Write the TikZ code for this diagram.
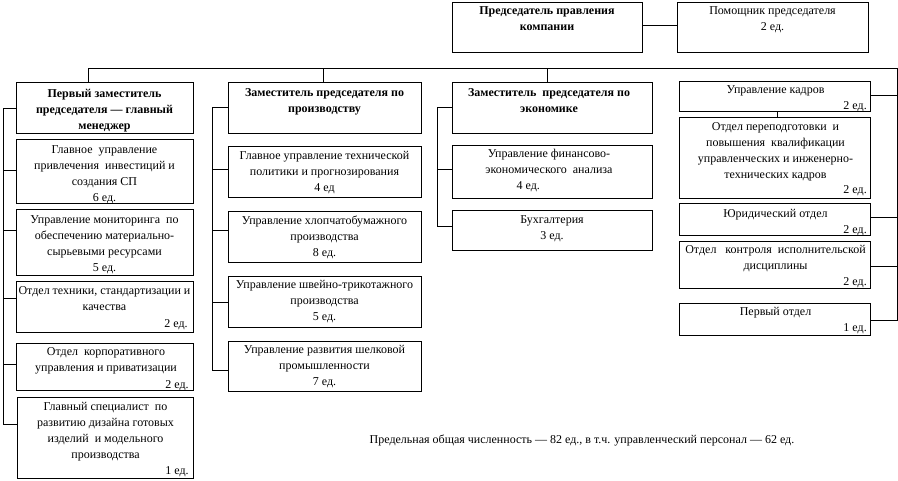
\documentclass[tikz,border=0pt]{standalone}
\usepackage{fontspec}
\setmainfont{Liberation Serif}
\usetikzlibrary{fit}
\newcommand\fnt{\fontsize{9}{12}\selectfont}
\newcommand\fs{\rule{0pt}{9pt}}
\tikzset{
  ln/.style={line width=0.75pt},
  box/.style={draw, line width=0.75pt, inner sep=0pt},
  txt/.style={font=\fnt, align=center, inner sep=0pt, anchor=north},
  btxt/.style={txt, font=\fnt\bfseries},
  num/.style={font=\fnt, inner sep=0pt, anchor=base east}
}
\newcommand\bx[5]{\node[box, fit={(#2,#3) (#4,#5)}] (#1) {};}
\begin{document}
\begin{tikzpicture}[x=0.75pt, y=-0.75pt]
\useasboundingbox (0,0) rectangle (898,480);
% top
\bx{pred}{452}{2}{642}{52}
\bx{pom}{677}{2}{868}{52}
\node[btxt] (tpred) at (547,14-12) {\fs Председатель правления\\компании};
\node[txt] (tpom) at (772.5,14-12) {\fs Помощник председателя\\2 ед.};
\draw[ln] (pred.east |- 0,25) -- (pom.west |- 0,25);
% column 1
\bx{c1h}{16}{82}{193}{133}
\bx{c1b2}{16}{139}{193}{203}
\bx{c1b3}{16}{209}{193}{275}
\bx{c1b4}{16}{281}{193}{332}
\bx{c1b5}{16}{343}{193}{390}
\bx{c1b6}{17}{397}{193}{478}
\node[btxt] at (104.5,97-12) {\fs Первый заместитель\\председателя — главный\\менеджер};
\node[txt] at (104.5,153-12) {\fs Главное\ \ управление\\привлечения\ \ инвестиций и\\создания СП\\6 ед.};
\node[txt] at (104.5,223-12) {\fs Управление мониторинга\ \ по\\обеспечению материально-\\сырьевыми ресурсами\\5 ед.};
\node[txt] at (104.5,294-12) {\fs Отдел техники, стандартизации и\\качества};
\node[num] at (188,327) {2 ед.};
\node[txt] at (106,355-12) {\fs Отдел\ \ корпоративного\\управления и приватизации};
\node[num] at (189,388) {2 ед.};
\node[txt] at (105.5,410-12) {\fs Главный специалист\ \ по\\развитию дизайна готовых\\изделий\ \ и модельного\\производства};
\node[num] at (189,474) {1 ед.};
% column 2
\bx{c2h}{228}{82}{421}{133}
\bx{c2b2}{228}{146}{421}{197}
\bx{c2b3}{228}{211}{421}{262}
\bx{c2b4}{228}{276}{421}{327}
\bx{c2b5}{228}{341}{421}{391}
\node[btxt] at (324.5,96-12) {\fs Заместитель председателя по\\производству};
\node[txt] at (324.5,159-12) {\fs Главное управление технической\\политики и прогнозирования\\4 ед};
\node[txt] at (324.5,224-12) {\fs Управление хлопчатобумажного\\производства\\8 ед.};
\node[txt] at (324.5,288-12) {\fs Управление швейно-трикотажного\\производства\\5 ед.};
\node[txt] at (324.5,353-12) {\fs Управление развития шелковой\\промышленности\\7 ед.};
% column 3
\bx{c3h}{452}{82}{652}{133}
\bx{c3b2}{452}{145}{652}{198}
\bx{c3b3}{452}{210}{652}{250}
\node[btxt] at (549,96-12) {\fs Заместитель\ \ председателя по\\экономике};
\node[txt] at (549,157-12) {\fs Управление финансово-\\экономического\ \ анализа\\4 ед.\hspace*{31pt}};
\node[txt] at (552,223-12) {\fs Бухгалтерия\\3 ед.};
% column 4
\bx{c4b1}{679}{81}{870}{111}
\bx{c4b2}{679}{117}{870}{198}
\bx{c4b3}{679}{203}{870}{235}
\bx{c4b4}{679}{241}{870}{288}
\bx{c4b5}{679}{303}{870}{335}
\node[txt] at (775.5,93-12) {\fs Управление кадров};
\node[num] at (867,109) {2 ед.};
\node[txt] at (775.5,130-12) {\fs Отдел переподготовки\ \ и\\повышения\ \ квалификации\\управленческих и инженерно-\\технических кадров};
\node[num] at (867,193) {2 ед.};
\node[txt] at (775.5,217-12) {\fs Юридический отдел};
\node[num] at (867,233) {2 ед.};
\node[txt] at (775.5,253-12) {\fs Отдел\ \ \ контроля\ \ исполнительской\\дисциплины};
\node[num] at (867,285) {2 ед.};
\node[txt] at (775.5,315-12) {\fs Первый отдел};
\node[num] at (867,331) {1 ед.};
% bottom note
\node[num, anchor=base] (note) at (582,443) {Предельная общая численность — 82 ед., в т.ч. управленческий персонал — 62 ед.};
% bus
\coordinate (busL) at (88,68);
\coordinate (busR) at (897,68);
\draw[ln] (c1h.north -| busL) -- (busL) -- (busR);
\draw[ln] (323,68) -- (c2h.north -| 323,0);
\draw[ln] (547,68) -- (c3h.north -| 547,0);
% col1 spine
\coordinate (s1t) at (3,108);
\coordinate (s1b) at (3,424);
\draw[ln] (c1h.west |- s1t) -- (s1t) -- (s1b) -- (c1b6.west |- s1b);
\draw[ln] (3,170) -- (c1b2.west |- 0,170);
\draw[ln] (3,230) -- (c1b3.west |- 0,230);
\draw[ln] (3,298) -- (c1b4.west |- 0,298);
\draw[ln] (3,364) -- (c1b5.west |- 0,364);
% col2 spine
\coordinate (s2t) at (212,107);
\coordinate (s2b) at (212,370);
\draw[ln] (c2h.west |- s2t) -- (s2t) -- (s2b) -- (c2b5.west |- s2b);
\draw[ln] (212,169) -- (c2b2.west |- 0,169);
\draw[ln] (212,230) -- (c2b3.west |- 0,230);
\draw[ln] (212,302) -- (c2b4.west |- 0,302);
% col3 spine
\coordinate (s3t) at (437,107);
\coordinate (s3b) at (437,226);
\draw[ln] (c3h.west |- s3t) -- (s3t) -- (s3b) -- (c3b3.west |- s3b);
\draw[ln] (437,169) -- (c3b2.west |- 0,169);
% col4 spine
\coordinate (s4b) at (897,320);
\draw[ln] (busR) -- (s4b) -- (c4b5.east |- s4b);
\draw[ln] (897,95) -- (c4b1.east |- 0,95);
\draw[ln] (897,217) -- (c4b3.east |- 0,217);
\draw[ln] (897,266) -- (c4b4.east |- 0,266);
\draw[ln] (c4b1.south -| 777,0) -- (c4b2.north -| 777,0);
\end{tikzpicture}
\end{document}
